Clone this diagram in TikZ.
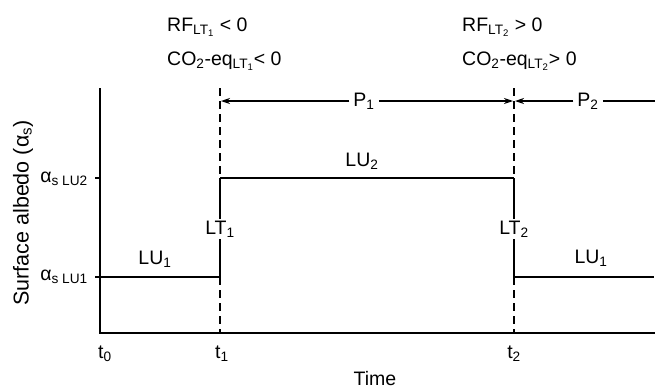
\documentclass[tikz,border=0pt]{standalone}
\usepackage{fontspec}
\setmainfont{Liberation Sans}
\usetikzlibrary{arrows.meta}
\begin{document}
\begin{tikzpicture}[x=1pt,y=-1pt,
  lbl/.style={inner sep=1pt,font=\fontsize{19.5}{22}\selectfont},
  axisline/.style={line width=1.8pt},
  thin/.style={line width=1.2pt},
  dashline/.style={line width=1.2pt,dash pattern=on 8pt off 5pt},
  arr/.style={line width=1.1pt,-{Stealth[length=9pt,width=6pt]}},
  bg/.style={fill=white,inner sep=2pt}]
\useasboundingbox[fill=white] (0,0) rectangle (660,389);
% coordinates
\coordinate (ytop) at (100,88);
\coordinate (O) at (100,333);
\coordinate (xend) at (655,333);
\coordinate (t1top) at (220,88);
\coordinate (t1hi) at (220,178);
\coordinate (t1lo) at (220,277);
\coordinate (t1bot) at (220,333);
\coordinate (t2top) at (514,88);
\coordinate (t2hi) at (514,178);
\coordinate (t2lo) at (514,277);
\coordinate (t2bot) at (514,333);
\coordinate (y2) at (100,178);
\coordinate (y1) at (100,277);
\coordinate (lu1end) at (654,277);
\coordinate (a1l) at (221,101);
\coordinate (a1r) at (513,101);
\coordinate (a2l) at (515,101);
\coordinate (p2end) at (655,101);
% axes
\draw[axisline] (ytop) -- (O) -- (xend);
\draw[thin] (y2) -- ++(-5,0);
\draw[thin] (y1) -- ++(-5,0);
% levels
\draw[thin] (y1) -- (t1lo);
\draw[thin] (t1hi) -- (t2hi);
\draw[thin] (t2lo) -- (lu1end);
% verticals
\draw[dashline] (t1top) -- (t1hi);
\draw[thin] (t1hi) -- (t1lo);
\draw[dashline] (t1lo) -- (t1bot);
\draw[dashline] (t2top) -- (t2hi);
\draw[thin] (t2hi) -- (t2lo);
\draw[dashline] (t2lo) -- (t2bot);
% labels on the transitions
\node[lbl,bg] (LT1) at (220,229) {LT\textsubscript{1}};
\node[lbl,bg] (LT2) at (514,229) {LT\textsubscript{2}};
% period arrows
\node[lbl,inner sep=4pt] (P1) at (364,101) {P\textsubscript{1}};
\node[lbl,inner sep=4pt] (P2) at (588,101) {P\textsubscript{2}};
\draw[arr] (P1.west) -- (a1l);
\draw[arr] (P1.east) -- (a1r);
\draw[arr] (P2.west) -- (a2l);
\draw[line width=1.1pt] (P2.east) -- (p2end);
% land-use labels
\node[lbl] (LU1a) at (155,259) {LU\textsubscript{1}};
\node[lbl] (LU2) at (362,161) {LU\textsubscript{2}};
\node[lbl] (LU1b) at (591,258) {LU\textsubscript{1}};
% y labels
\node[lbl,anchor=east] (aLU2) at (89,179) {α\textsubscript{s LU2}};
\node[lbl,anchor=east] (aLU1) at (89,277) {α\textsubscript{s LU1}};
\node[lbl,rotate=90,font=\fontsize{21.5}{24}\selectfont] (ylab) at (23,213) {Surface albedo (α\textsubscript{s})};
% time labels
\node[lbl] (t0) at (105,354) {t\textsubscript{0}};
\node[lbl] (t1) at (222,354) {t\textsubscript{1}};
\node[lbl] (t2) at (514,354) {t\textsubscript{2}};
\node[lbl] (time) at (375,379) {Time};
% top annotations
\node[lbl,anchor=west] (rf1) at (166,27) {RF\textsubscript{LT\textsubscript{1}} < 0};
\node[lbl,anchor=west] (co1) at (166,61) {CO\textsubscript{2}-eq\textsubscript{LT\textsubscript{1}}< 0};
\node[lbl,anchor=west] (rf2) at (461,27) {RF\textsubscript{LT\textsubscript{2}} > 0};
\node[lbl,anchor=west] (co2) at (461,61) {CO\textsubscript{2}-eq\textsubscript{LT\textsubscript{2}}> 0};
\end{tikzpicture}
\end{document}
